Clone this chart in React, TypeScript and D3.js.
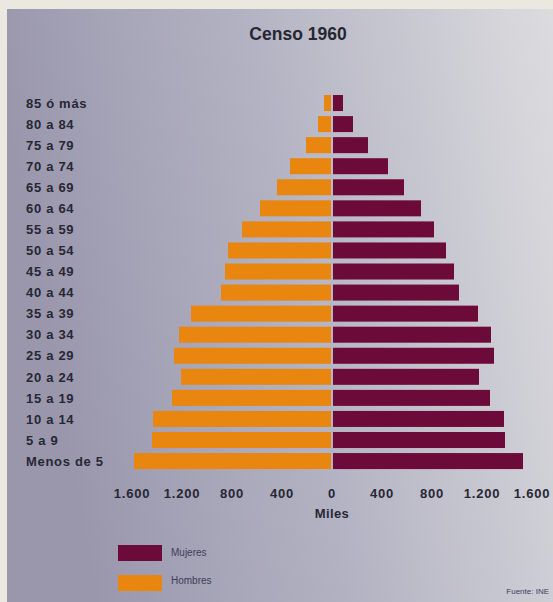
import React from 'react';
import * as d3 from 'd3';

// Age groups, top to bottom as in the printed chart
const AGE_GROUPS = [
  '85 ó más', '80 a 84', '75 a 79', '70 a 74', '65 a 69', '60 a 64',
  '55 a 59', '50 a 54', '45 a 49', '40 a 44', '35 a 39', '30 a 34',
  '25 a 29', '20 a 24', '15 a 19', '10 a 14', '5 a 9', 'Menos de 5',
];

// Thousands of people (Miles)
const HOMBRES = [64, 112, 208, 336, 440, 576, 720, 832, 856, 888, 1128, 1224, 1264, 1208, 1280, 1432, 1440, 1584];
const MUJERES = [88, 168, 288, 448, 576, 712, 816, 912, 976, 1016, 1168, 1272, 1296, 1176, 1264, 1376, 1384, 1528];

const TICKS = [-1600, -1200, -800, -400, 0, 400, 800, 1200, 1600];

const W = 553;
const H = 602;
const HOMBRES_COLOR = '#e8860f';
const MUJERES_COLOR = '#6c0a3a';
const TEXT_COLOR = '#272733';
const FONT = '"Liberation Sans", Arial, Helvetica, sans-serif';

const fmt = (v: number) => {
  const a = Math.abs(v);
  return a >= 1000 ? `${Math.floor(a / 1000)}.${String(a % 1000).padStart(3, '0')}` : String(a);
};

export default function App() {
  const x = d3.scaleLinear().domain([-1600, 1600]).range([132, 532]);
  const y = d3.scaleBand<string>()
    .domain(AGE_GROUPS)
    .range([92.5, 471.6])
    .paddingInner(0.24)
    .paddingOuter(0.12);
  const x0 = x(0);

  return (
    <svg width={W} height={H} style={{ position: 'absolute', top: 0, left: 0, display: 'block' }}
      fontFamily={FONT}>
      <defs>
        <linearGradient id="panel-bg" x1="0" y1="0.2" x2="1" y2="0">
          <stop offset="0" stopColor="#9a97ad" />
          <stop offset="0.45" stopColor="#b3b2c2" />
          <stop offset="1" stopColor="#dcdcdf" />
        </linearGradient>
      </defs>
      <rect x={0} y={0} width={W} height={H} fill="#ebe8df" />
      <rect x={7} y={9} width={W - 7} height={H - 9} fill="url(#panel-bg)" />

      <text x={298} y={40} textAnchor="middle" fontSize={17.5} fontWeight="bold" fill={TEXT_COLOR}>
        Censo 1960
      </text>

      {/* age labels */}
      {AGE_GROUPS.map(g => (
        <text key={g} x={26} y={(y(g) ?? 0) + y.bandwidth() / 2} dy="0.36em"
          fontSize={13} fontWeight="bold" letterSpacing={0.7} fill={TEXT_COLOR}>
          {g}
        </text>
      ))}

      {/* men, left side */}
      {AGE_GROUPS.map((g, i) => (
        <rect key={`h-${g}`} x={x(-HOMBRES[i])} y={y(g)} width={x0 - 1 - x(-HOMBRES[i])}
          height={y.bandwidth()} fill={HOMBRES_COLOR} />
      ))}

      {/* women, right side */}
      {AGE_GROUPS.map((g, i) => (
        <rect key={`m-${g}`} x={x0 + 1} y={y(g)} width={x(MUJERES[i]) - x0 - 1}
          height={y.bandwidth()} fill={MUJERES_COLOR} />
      ))}

      {/* axis labels */}
      {TICKS.map(t => (
        <text key={t} x={x(t)} y={498} textAnchor="middle" fontSize={13} fontWeight="bold"
          letterSpacing={0.8} fill={TEXT_COLOR}>
          {fmt(t)}
        </text>
      ))}
      <text x={x0} y={518} textAnchor="middle" fontSize={13} fontWeight="bold" letterSpacing={0.4}
        fill={TEXT_COLOR}>
        Miles
      </text>

      {/* legend */}
      <rect x={118} y={545} width={44} height={16} fill={MUJERES_COLOR} />
      <text x={171} y={556} fontSize={10} fill="#3d3d58">Mujeres</text>
      <rect x={118} y={575} width={44} height={16} fill={HOMBRES_COLOR} />
      <text x={171} y={584} fontSize={10} fill="#3d3d58">Hombres</text>

      <text x={549} y={594} textAnchor="end" fontSize={8} fill="#3d3d66">Fuente: INE</text>
    </svg>
  );
}
